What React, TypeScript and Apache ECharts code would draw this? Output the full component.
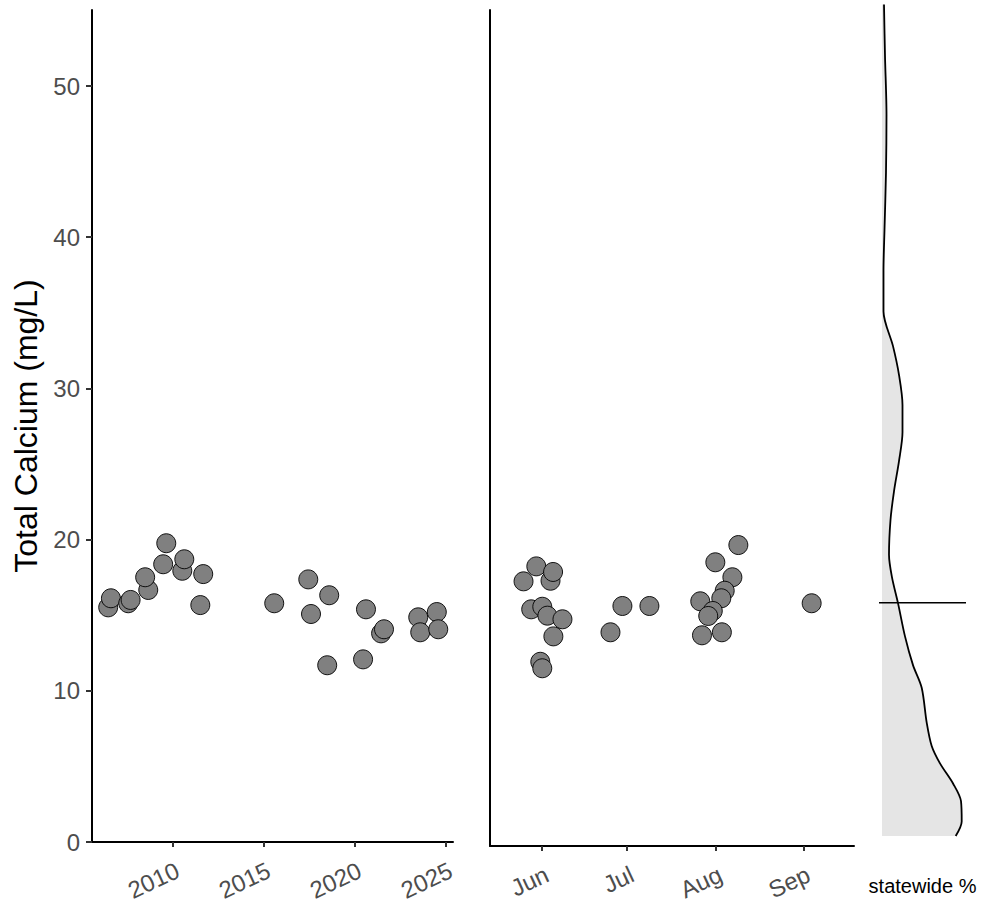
import React, { useEffect, useRef } from "react";
import * as echarts from "echarts";

// Left panel: sampling year vs total calcium
const yearValues = [
  2006.46, 2006.61, 2007.56, 2007.69, 2008.66, 2008.49, 2009.48, 2009.65, 2010.53, 2010.64,
  2011.68, 2011.52, 2015.58, 2017.45, 2017.6, 2018.6, 2018.49, 2020.62, 2020.46, 2021.45,
  2021.61, 2023.49, 2023.6, 2024.51, 2024.59,
];
const yearCalcium = [
  15.52, 16.12, 15.79, 16.01, 16.67, 17.51, 18.37, 19.76, 17.94, 18.7,
  17.72, 15.67, 15.79, 17.37, 15.08, 16.32, 11.69, 15.39, 12.08, 13.8,
  14.07, 14.86, 13.87, 15.21, 14.07,
];

// Middle panel: day of year vs total calcium
const dayValues = [
  145.5, 150.0, 155.0, 155.9, 148.2, 152.1, 153.9, 159.2, 156.0, 151.4,
  152.1, 180.3, 189.8, 176.1, 207.7, 213.0, 221.1, 219.0, 216.3, 215.1,
  212.1, 210.5, 208.3, 215.3, 246.9,
];
const dayCalcium = [
  17.24, 18.23, 17.28, 17.86, 15.39, 15.56, 14.97, 14.73, 13.6, 11.92,
  11.49, 15.61, 15.61, 13.87, 15.92, 18.5, 19.64, 17.51, 16.62, 16.12,
  15.28, 14.95, 13.67, 13.87, 15.79,
];

// Right panel: statewide density
const densityLevels = [
  0.4, 1.36, 2.7, 3.84, 5.2, 6.35, 7.9, 10.2, 11.7, 13.6, 15.8, 17.5, 19.0, 21.3,
  23.2, 25.2, 27.1, 28.9, 30.9, 32.8, 35.1, 37.8, 40.5, 44.3, 48.1, 52.0, 55.4,
];
const densityPct = [
  7.37, 7.97, 7.9, 7.13, 5.8, 4.97, 4.47, 3.97, 3.1, 2.3, 1.6, 1.0, 0.7, 0.85,
  1.2, 1.7, 2.05, 2.05, 1.7, 1.1, 0.15, 0.15, 0.25, 0.4, 0.45, 0.3, 0.2,
];
const siteMarker = 15.83;

// Tick labels
const yTicks = [0, 10, 20, 30, 40, 50];
const yearTicks = [2010, 2015, 2020, 2025];
const monthTickDays = [152, 182, 213, 244];
const monthTickLabels = ["Jun", "Jul", "Aug", "Sep"];

const FONT = "'Liberation Sans', Arial, sans-serif";
const TICK_COLOR = "#4d4d4d";

export default function App() {
  const ref = useRef<HTMLDivElement>(null);

  useEffect(() => {
    if (!ref.current) return;
    const chart = echarts.init(ref.current, undefined, { renderer: "svg" });

    const axisLine = { show: true, onZero: false, lineStyle: { color: "#000", width: 2 } };
    const tickStyle = { show: true, inside: false, length: 6, lineStyle: { color: "#333", width: 2 } };
    const scatterStyle = { color: "#808080", borderColor: "#000", borderWidth: 0.9, opacity: 1 };
    const xLabelBase = {
      rotate: 25,
      margin: 16,
      fontSize: 24,
      color: TICK_COLOR,
      fontFamily: FONT,
      align: "right",
      verticalAlign: "top",
    };

    const option: any = {
      animation: false,
      backgroundColor: "#fff",
      textStyle: { fontFamily: FONT },
      grid: [
        { left: 92, top: 10, width: 361, height: 832, containLabel: false, outerBoundsMode: "none" },
        { left: 490, top: 10, width: 364, height: 836, containLabel: false, outerBoundsMode: "none" },
        { left: 879, top: 3, width: 87, height: 839, containLabel: false, outerBoundsMode: "none" },
      ],
      xAxis: [
        {
          gridIndex: 0,
          type: "value",
          min: 2005.57,
          max: 2025.4,
          axisLine,
          axisTick: { ...tickStyle, length: 5, customValues: yearTicks },
          axisLabel: {
            ...xLabelBase,
            customValues: yearTicks,
            formatter: (v: number) => String(Math.round(v)),
          },
          splitLine: { show: false },
        },
        {
          gridIndex: 1,
          type: "value",
          min: 133.7,
          max: 261.8,
          axisLine,
          axisTick: { ...tickStyle, length: 5, customValues: monthTickDays },
          axisLabel: {
            ...xLabelBase,
            customValues: monthTickDays,
            formatter: (v: number) => {
              const i = monthTickDays.indexOf(Math.round(v));
              return i >= 0 ? monthTickLabels[i] : "";
            },
          },
          splitLine: { show: false },
        },
        {
          gridIndex: 2,
          type: "value",
          min: -0.3,
          max: 8.4,
          axisLine: { show: false },
          axisTick: { show: false },
          axisLabel: { show: false },
          splitLine: { show: false },
          name: "statewide %",
          nameLocation: "middle",
          nameGap: 34,
          nameTextStyle: { fontSize: 20, color: "#000", fontFamily: FONT },
        },
      ],
      yAxis: [
        {
          gridIndex: 0,
          type: "value",
          min: 0,
          max: 55.03,
          axisLine,
          axisTick: { ...tickStyle, customValues: yTicks },
          axisLabel: {
            customValues: yTicks,
            margin: 12,
            fontSize: 24,
            color: TICK_COLOR,
            fontFamily: FONT,
          },
          splitLine: { show: false },
          name: "Total Calcium (mg/L)",
          nameLocation: "middle",
          nameGap: 50,
          nameTextStyle: { fontSize: 32, color: "#000", fontFamily: FONT },
        },
        {
          gridIndex: 1,
          type: "value",
          min: -0.265,
          max: 55.03,
          axisLine,
          axisTick: { show: false },
          axisLabel: { show: false },
          splitLine: { show: false },
        },
        {
          gridIndex: 2,
          type: "value",
          min: 0,
          max: 55.5,
          axisLine: { show: false },
          axisTick: { show: false },
          axisLabel: { show: false },
          splitLine: { show: false },
        },
      ],
      series: [
        {
          type: "scatter",
          xAxisIndex: 0,
          yAxisIndex: 0,
          symbol: "circle",
          symbolSize: 19,
          itemStyle: scatterStyle,
          data: yearValues.map((x, i) => [x, yearCalcium[i]]),
        },
        {
          type: "scatter",
          xAxisIndex: 1,
          yAxisIndex: 1,
          symbol: "circle",
          symbolSize: 19,
          itemStyle: scatterStyle,
          data: dayValues.map((x, i) => [x, dayCalcium[i]]),
        },
        {
          type: "custom",
          xAxisIndex: 2,
          yAxisIndex: 2,
          silent: true,
          data: [[0, densityLevels[0]]],
          renderItem: (params: any, api: any) => {
            const pts: number[][] = [];
            pts.push(api.coord([0, densityLevels[0]]));
            densityLevels.forEach((lv, i) => pts.push(api.coord([densityPct[i], lv])));
            pts.push(api.coord([0, densityLevels[densityLevels.length - 1]]));
            return {
              type: "polygon",
              shape: { points: pts },
              style: { fill: "#e5e5e5", stroke: "none" },
            };
          },
          z: 1,
        },
        {
          type: "line",
          xAxisIndex: 2,
          yAxisIndex: 2,
          symbol: "none",
          smooth: 0.3,
          lineStyle: { color: "#000", width: 1.8 },
          data: densityLevels.map((lv, i) => [densityPct[i], lv]),
          z: 3,
        },
        {
          type: "line",
          xAxisIndex: 2,
          yAxisIndex: 2,
          symbol: "none",
          lineStyle: { color: "#000", width: 1.5 },
          data: [
            [-0.3, siteMarker],
            [8.4, siteMarker],
          ],
          z: 4,
        },
      ],
    };

    chart.setOption(option);
    return () => chart.dispose();
  }, []);

  return (
    <div
      ref={ref}
      style={{ position: "fixed", left: 0, top: 0, width: 983, height: 906, background: "#fff" }}
    />
  );
}
